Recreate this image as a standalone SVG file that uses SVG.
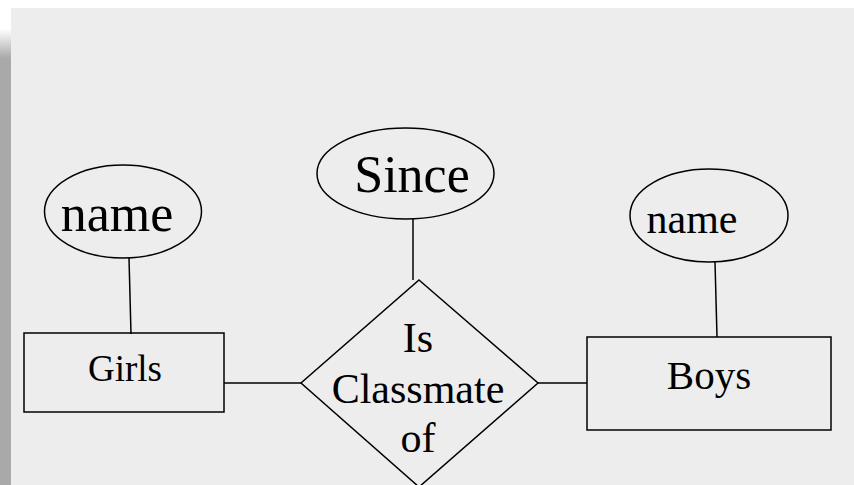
<svg xmlns="http://www.w3.org/2000/svg" width="854" height="485" viewBox="0 0 854 485">
<defs>
<linearGradient id="sh" x1="0" y1="0" x2="0" y2="1">
<stop offset="0" stop-color="#ffffff"/>
<stop offset="0.06" stop-color="#ffffff"/>
<stop offset="0.12" stop-color="#a9a9a9"/>
<stop offset="1" stop-color="#a9a9a9"/>
</linearGradient>
</defs>
<rect x="0" y="0" width="854" height="485" fill="#ffffff"/>
<rect x="0" y="0" width="11" height="485" fill="url(#sh)"/>
<rect x="11" y="8" width="843" height="477" fill="#ededed"/>
<g id="connectors" fill="none" stroke="#000" stroke-width="1.5">
<line x1="129" y1="258" x2="131" y2="334"/>
<line x1="413" y1="219" x2="413" y2="280"/>
<line x1="715" y1="262" x2="717" y2="337"/>
<line x1="224" y1="383" x2="301" y2="383"/>
<line x1="538" y1="383" x2="587" y2="383"/>
</g>
<g id="name-girls">
<ellipse cx="123" cy="211.5" rx="78.5" ry="46.5" fill="none" stroke="#000" stroke-width="1.5"/>
<text x="117" y="231" font-size="52" font-family="Liberation Serif" text-anchor="middle">name</text>
</g>
<g id="since">
<ellipse cx="405.5" cy="173.5" rx="88.5" ry="45.5" fill="none" stroke="#000" stroke-width="1.5"/>
<text x="412" y="192" font-size="52" font-family="Liberation Serif" text-anchor="middle">Since</text>
</g>
<g id="name-boys">
<ellipse cx="709" cy="215.5" rx="79" ry="46.5" fill="none" stroke="#000" stroke-width="1.5"/>
<text x="692" y="233" font-size="42" font-family="Liberation Serif" text-anchor="middle">name</text>
</g>
<g id="girls">
<rect x="24" y="333" width="200" height="79" fill="none" stroke="#000" stroke-width="1.5"/>
<text x="125" y="381" font-size="37" font-family="Liberation Serif" text-anchor="middle">Girls</text>
</g>
<g id="boys">
<rect x="587" y="337" width="244" height="93" fill="none" stroke="#000" stroke-width="1.5"/>
<text x="709" y="389" font-size="41" font-family="Liberation Serif" text-anchor="middle">Boys</text>
</g>
<g id="classmate">
<polygon points="419,280 538,383 419,487 301,383" fill="none" stroke="#000" stroke-width="1.5"/>
<text x="418" y="352" font-size="42" font-family="Liberation Serif" text-anchor="middle">Is</text>
<text x="418" y="403" font-size="42" font-family="Liberation Serif" text-anchor="middle">Classmate</text>
<text x="418" y="452" font-size="42" font-family="Liberation Serif" text-anchor="middle">of</text>
</g>
</svg>
